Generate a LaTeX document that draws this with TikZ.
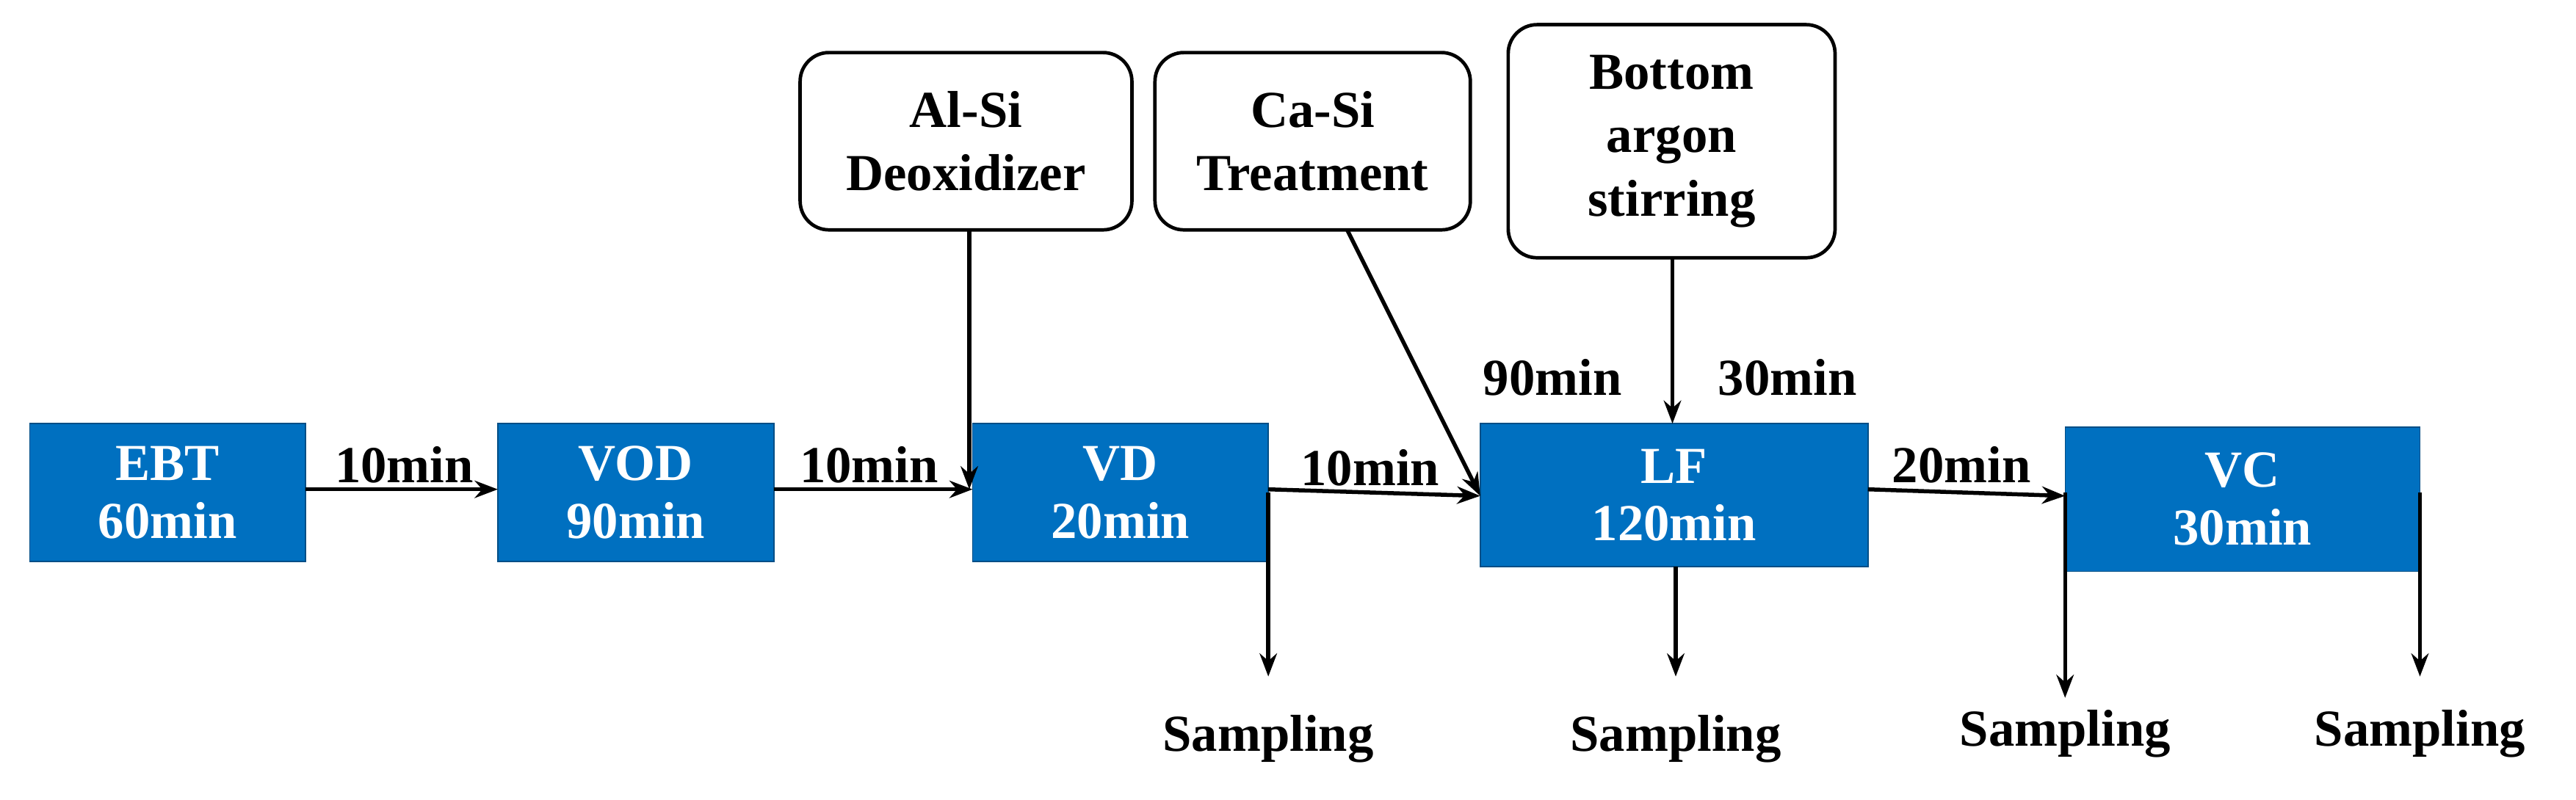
\documentclass[tikz,border=0pt]{standalone}
\usepackage{fontspec}
\setmainfont{Liberation Serif}
\usetikzlibrary{arrows.meta}
\definecolor{pblue}{HTML}{0070C0}
\begin{document}
\begin{tikzpicture}[x=0.02cm,y=-0.02cm,
  box/.style={draw=pblue!70!black,fill=pblue,text=white,font=\fontsize{18}{20}\selectfont\bfseries,align=center,inner sep=0pt,minimum height=#1},
  rbox/.style={draw,line width=1.2pt,rounded corners=10pt,font=\fontsize{18}{22}\selectfont\bfseries,align=center,inner sep=0pt},
  lab/.style={font=\fontsize{18}{20}\selectfont\bfseries,inner sep=0pt},
  arr/.style={line width=1.4pt,-{Stealth[length=8pt,width=6pt]}},
  ln/.style={line width=1.4pt}]
\useasboundingbox (0,0) rectangle (1568,487);
\node[box=1.68cm,minimum width=3.36cm] (ebt) at (102,300) {EBT\\60min};
\node[box=1.68cm,minimum width=3.36cm] (vod) at (387,300) {VOD\\90min};
\node[box=1.68cm,minimum width=3.6cm] (vd) at (682,300) {VD\\20min};
\node[box=1.74cm,minimum width=4.72cm] (lf) at (1019,301.5) {LF\\120min};
\node[box=1.76cm,minimum width=4.32cm] (vc) at (1365,304) {VC\\30min};
\node[rbox,minimum width=4.04cm,minimum height=2.16cm] (al) at (588,86) {Al-Si\\Deoxidizer};
\node[rbox,minimum width=3.84cm,minimum height=2.16cm] (ca) at (799,86) {Ca-Si\\Treatment};
\node[rbox,minimum width=3.98cm,minimum height=2.84cm] (ar) at (1017.5,86) {Bottom\\argon\\stirring};
\coordinate (a1) at (186,298); \coordinate (a2) at (303,298);
\coordinate (b1) at (471,298); \coordinate (b2) at (592,298);
\coordinate (c1) at (772,298); \coordinate (c2) at (901,302);
\coordinate (d1) at (1137,298); \coordinate (d2) at (1257,302);
\draw[arr] (a1) -- (a2); \draw[arr] (b1) -- (b2); \draw[arr] (c1) -- (c2); \draw[arr] (d1) -- (d2);
\node[lab] (l1) at (246,283) {10min};
\node[lab] (l2) at (529,283) {10min};
\node[lab] (l3) at (834,285) {10min};
\node[lab] (l4) at (1194,283) {20min};
\node[lab] (l5) at (945,230) {90min};
\node[lab] (l6) at (1088,230) {30min};
\coordinate (alb) at (590,140); \coordinate (alt) at (590,298);
\draw[arr] (alb) -- (alt);
\coordinate (cab) at (820,140); \draw[arr] (cab) -- (c2);
\coordinate (arb) at (1018,157); \coordinate (art) at (1018,258);
\draw[arr] (arb) -- (art);
\foreach \n/\x/\ya/\yb/\yl in {s1/772/300/412/450,s2/1020/345/412/450,s3/1257/300/425/447,s4/1473/300/412/447}{
  \coordinate (\n a) at (\x,\ya); \coordinate (\n b) at (\x,\yb);
  \draw[arr] (\n a) -- (\n b);
  \node[lab] (\n) at (\x,\yl) {Sampling};
}
\end{tikzpicture}
\end{document}
